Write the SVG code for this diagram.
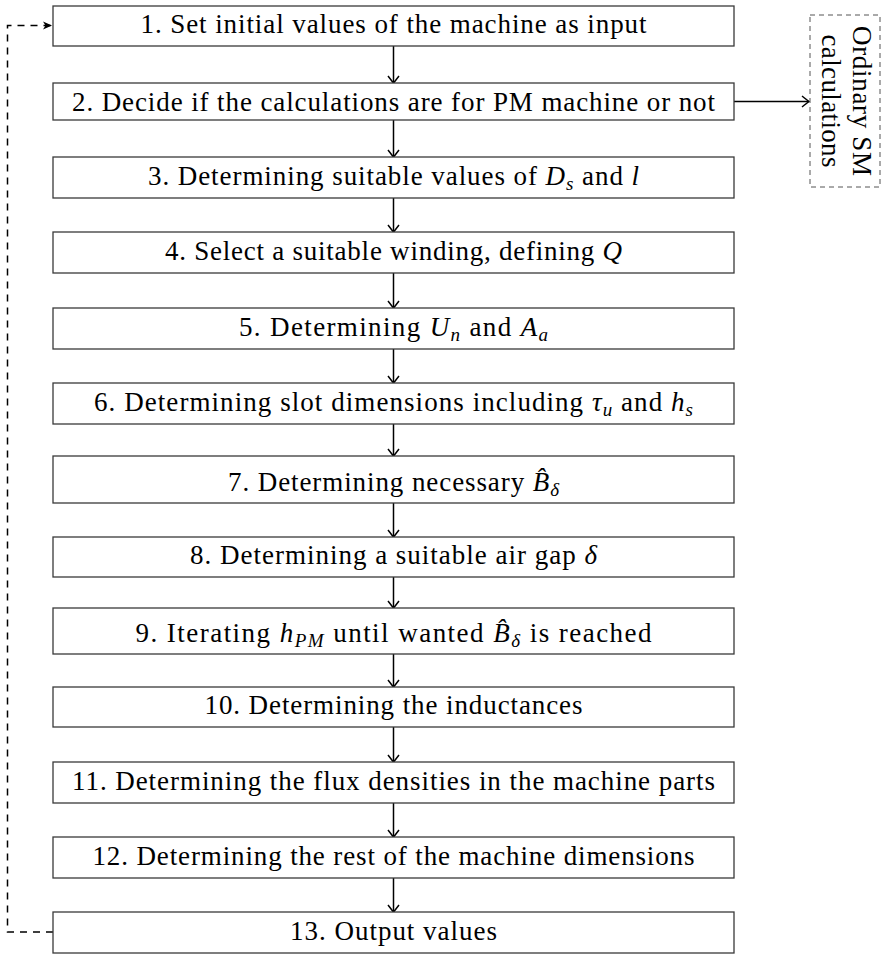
<svg xmlns="http://www.w3.org/2000/svg" width="883" height="954" viewBox="0 0 883 954">
<style>
.box{fill:#fff;stroke:#3a3a3a;stroke-width:1.3}
.t{font-family:"Liberation Serif","Times New Roman",serif;font-size:27px;fill:#000;text-anchor:middle}
.m{font-style:italic}
.s{font-size:19px}
.arr{stroke:#000;stroke-width:1.5;fill:none;marker-end:url(#to)}
.dash{stroke:#000;stroke-width:1.5;fill:none;stroke-dasharray:7 6}
</style>
<defs>
<marker id="to" markerUnits="userSpaceOnUse" markerWidth="16" markerHeight="16" viewBox="-9 -8 11 16" refX="0" refY="0" orient="auto">
<path d="M-7,-5.5 C-3.5,-2.8 -1.2,-1 0,0 C-1.2,1 -3.5,2.8 -7,5.5" stroke="#000" stroke-width="1.5" fill="none"/>
</marker>
<marker id="st" markerUnits="userSpaceOnUse" markerWidth="14" markerHeight="14" viewBox="-10 -7 12 14" refX="0" refY="0" orient="auto">
<path d="M0,0 L-9,-4 L-6.5,0 L-9,4 Z" fill="#000"/>
</marker>
</defs>
<g id="connectors">
<line class="arr" x1="393.5" y1="46" x2="393.5" y2="83"/>
<line class="arr" x1="393.5" y1="120" x2="393.5" y2="157"/>
<line class="arr" x1="393.5" y1="198" x2="393.5" y2="232"/>
<line class="arr" x1="393.5" y1="273" x2="393.5" y2="308"/>
<line class="arr" x1="393.5" y1="349" x2="393.5" y2="383"/>
<line class="arr" x1="393.5" y1="424" x2="393.5" y2="456"/>
<line class="arr" x1="393.5" y1="503" x2="393.5" y2="537"/>
<line class="arr" x1="393.5" y1="577" x2="393.5" y2="608"/>
<line class="arr" x1="393.5" y1="654" x2="393.5" y2="687"/>
<line class="arr" x1="393.5" y1="727" x2="393.5" y2="762"/>
<line class="arr" x1="393.5" y1="803" x2="393.5" y2="837"/>
<line class="arr" x1="393.5" y1="878" x2="393.5" y2="912"/>
<line class="arr" x1="734" y1="101.5" x2="809" y2="101.5"/>
<path class="dash" d="M53,932 H7.5 V25.5 H52" marker-end="url(#st)"/>
</g>
<g id="n1"><rect class="box" x="53" y="6" width="681" height="40"/><text class="t" x="393.5" y="33" textLength="506">1. Set initial values of the machine as input</text></g>
<g id="n2"><rect class="box" x="53" y="83" width="681" height="37"/><text class="t" x="393.5" y="111" textLength="643">2. Decide if the calculations are for PM machine or not</text></g>
<g id="n3"><rect class="box" x="53" y="157" width="681" height="41"/><text class="t" x="393.5" y="185" textLength="491">3. Determining suitable values of <tspan class="m">D</tspan><tspan class="m s" dy="5">s</tspan><tspan dy="-5"> and </tspan><tspan class="m">l</tspan></text></g>
<g id="n4"><rect class="box" x="53" y="232" width="681" height="41"/><text class="t" x="393.5" y="260" textLength="457">4. Select a suitable winding, defining <tspan class="m">Q</tspan></text></g>
<g id="n5"><rect class="box" x="53" y="308" width="681" height="41"/><text class="t" x="393.5" y="336" textLength="309">5. Determining <tspan class="m">U</tspan><tspan class="m s" dy="5">n</tspan><tspan dy="-5"> and </tspan><tspan class="m">A</tspan><tspan class="m s" dy="5">a</tspan></text></g>
<g id="n6"><rect class="box" x="53" y="383" width="681" height="41"/><text class="t" x="393.5" y="411" textLength="599">6. Determining slot dimensions including <tspan class="m">τ</tspan><tspan class="m s" dy="5">u</tspan><tspan dy="-5"> and </tspan><tspan class="m">h</tspan><tspan class="m s" dy="5">s</tspan></text></g>
<g id="n7"><rect class="box" x="53" y="456" width="681" height="47"/><text class="t" x="393.5" y="491" textLength="331">7. Determining necessary <tspan class="m">B̂</tspan><tspan class="m s" dy="5">δ</tspan></text></g>
<g id="n8"><rect class="box" x="53" y="537" width="681" height="40"/><text class="t" x="393.5" y="564" textLength="407">8. Determining a suitable air gap <tspan class="m">δ</tspan></text></g>
<g id="n9"><rect class="box" x="53" y="608" width="681" height="46"/><text class="t" x="393.5" y="642" textLength="516">9. Iterating <tspan class="m">h</tspan><tspan class="m s" dy="5">PM</tspan><tspan dy="-5"> until wanted </tspan><tspan class="m">B̂</tspan><tspan class="m s" dy="5">δ</tspan><tspan dy="-5"> is reached</tspan></text></g>
<g id="n10"><rect class="box" x="53" y="687" width="681" height="40"/><text class="t" x="393.5" y="714" textLength="378">10. Determining the inductances</text></g>
<g id="n11"><rect class="box" x="53" y="762" width="681" height="41"/><text class="t" x="393.5" y="790" textLength="643">11. Determining the flux densities in the machine parts</text></g>
<g id="n12"><rect class="box" x="53" y="837" width="681" height="41"/><text class="t" x="393.5" y="865" textLength="602">12. Determining the rest of the machine dimensions</text></g>
<g id="n13"><rect class="box" x="53" y="912" width="681" height="41"/><text class="t" x="393.5" y="940" textLength="207">13. Output values</text></g>
<g id="ordinary"><rect x="810" y="15" width="70" height="172" fill="none" stroke="#555" stroke-width="1" stroke-dasharray="5 4"/>
<text class="t" transform="translate(853,101) rotate(90)" textLength="150">Ordinary SM</text>
<text class="t" transform="translate(822,101) rotate(90)" textLength="133">calculations</text></g>
</svg>
